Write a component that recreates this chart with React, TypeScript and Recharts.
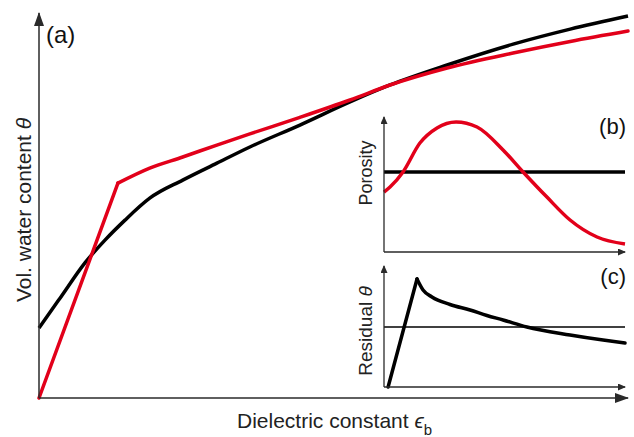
import React from 'react';
import { LineChart, Line, XAxis, YAxis } from 'recharts';

// (a) dielectric constant vs. water content, arbitrary units (0-100)
const mainEps = [0, 3.6, 7.8, 11.2, 14.6, 18.8, 24.4, 30.2, 35.8, 44.3, 52.8, 59.6, 69.3, 80.5, 90.2, 100];
const mainThetaSmooth = [18.2, 26.0, 35.1, 41.0, 46.2, 51.9, 56.6, 61.0, 65.2, 70.9, 76.9, 81.3, 86.5, 91.9, 95.8, 99.2];

const pieceEpsRise = [0, 13.4];
const pieceThetaRise = [0, 55.8];
const pieceEps = [13.4, 18.8, 24.4, 30.2, 35.8, 44.3, 52.8, 59.6, 69.3, 80.5, 90.2, 100];
const pieceTheta = [55.8, 59.7, 62.6, 65.7, 68.6, 72.9, 77.4, 81.3, 85.7, 89.6, 92.6, 95.3];

// (b) porosity along the dielectric axis
const porEps = [0, 2.5, 7.9, 14.9, 22.0, 29.9, 38.6, 49.4, 57.7, 67.6, 77.2, 88.4, 100];
const porVarying = [44.4, 48.1, 59.3, 80.7, 91.9, 96.3, 92.6, 75.6, 59.3, 40.7, 23.7, 11.1, 5.9];
const porConstEps = [0, 100];
const porConst = [59.3, 59.3];

// (c) residual water content
const resEpsRise = [1.7, 13.7];
const resRise = [0, 89.3];
const resEps = [13.7, 16.2, 19.9, 27.4, 35.7, 42.7, 49.4, 59.3, 77.2, 90.9, 100];
const resDecay = [89.3, 80.2, 74.4, 68.2, 63.6, 59.1, 55.4, 49.6, 43.0, 38.8, 36.4];
const resZeroEps = [0, 100];
const resZero = [49.6, 49.6];

const pairs = (xs: number[], ys: number[]) => xs.map((x, i) => ({ x, y: ys[i] }));

const RED = '#e2001a';
const AXIS = '#2a2a2a';
const FONT = '"Liberation Sans", Arial, Helvetica, sans-serif';

const Arrow = ({ id, len, half }: { id: string; len: number; half: number }) => (
  <marker
    id={id}
    viewBox={`0 0 ${len} ${half * 2}`}
    refX={len - 1}
    refY={half}
    markerWidth={len}
    markerHeight={half * 2}
    markerUnits="userSpaceOnUse"
    orient="auto-start-reverse"
  >
    <path d={`M0,0 L${len},${half} L0,${half * 2} z`} fill={AXIS} />
  </marker>
);

// axes get a 1px size so they still draw their line (size 0 skips the axis)
const MainChart = () => (
  <LineChart width={634} height={437} margin={{ top: 13, right: 6, left: 38, bottom: 38 }}>
    <defs>
      <Arrow id="arrowMain" len={14} half={5} />
    </defs>
    <XAxis
      type="number"
      dataKey="x"
      domain={[0, 100]}
      height={1}
      tick={false}
      tickLine={false}
      axisLine={{ stroke: AXIS, strokeWidth: 1.5, markerEnd: 'url(#arrowMain)' }}
    />
    <YAxis
      type="number"
      dataKey="y"
      domain={[0, 100]}
      width={1}
      tick={false}
      tickLine={false}
      axisLine={{ stroke: AXIS, strokeWidth: 1.5, markerStart: 'url(#arrowMain)' }}
    />
    <Line data={pairs(mainEps, mainThetaSmooth)} dataKey="y" type="monotone" stroke="#000" strokeWidth={3.5}
      dot={false} activeDot={false} isAnimationActive={false} />
    <Line data={pairs(pieceEpsRise, pieceThetaRise)} dataKey="y" type="linear" stroke={RED} strokeWidth={3.5}
      strokeLinecap="round" dot={false} activeDot={false} isAnimationActive={false} />
    <Line data={pairs(pieceEps, pieceTheta)} dataKey="y" type="monotone" stroke={RED} strokeWidth={3.5}
      strokeLinecap="round" dot={false} activeDot={false} isAnimationActive={false} />
    <text x={46} y={43} fontSize={24} fill="#111" fontFamily={FONT}>(a)</text>
    <text x={31} y={210} transform="rotate(-90 31 210)" textAnchor="middle" fontSize={21} fill="#222" fontFamily={FONT}>
      Vol. water content <tspan fontStyle="italic">θ</tspan>
    </text>
    <text x={237} y={428} fontSize={21} fill="#222" fontFamily={FONT}>
      Dielectric constant <tspan fontStyle="italic">ϵ</tspan>
      <tspan fontSize={15} dy={7}>b</tspan>
    </text>
  </LineChart>
);

const PorosityInset = () => (
  <LineChart width={284} height={155} margin={{ top: 12, right: 9, left: 33, bottom: 7 }}>
    <defs>
      <Arrow id="arrowPor" len={8} half={3.5} />
    </defs>
    <XAxis type="number" dataKey="x" domain={[0, 100]} height={1} tick={false} tickLine={false}
      axisLine={{ stroke: AXIS, strokeWidth: 1.3, markerEnd: 'url(#arrowPor)' }} />
    <YAxis type="number" dataKey="y" domain={[0, 100]} width={1} tick={false} tickLine={false}
      axisLine={{ stroke: AXIS, strokeWidth: 1.3, markerStart: 'url(#arrowPor)' }} />
    <Line data={pairs(porConstEps, porConst)} dataKey="y" type="linear" stroke="#000" strokeWidth={3.5}
      dot={false} activeDot={false} isAnimationActive={false} />
    <Line data={pairs(porEps, porVarying)} dataKey="y" type="monotone" stroke={RED} strokeWidth={3.5}
      dot={false} activeDot={false} isAnimationActive={false} />
    <text x={276} y={29} textAnchor="end" fontSize={22} fill="#111" fontFamily={FONT}>(b)</text>
    <text x={22} y={68} transform="rotate(-90 22 68)" textAnchor="middle" fontSize={18} fill="#222" fontFamily={FONT}>
      Porosity
    </text>
  </LineChart>
);

const ResidualInset = () => (
  <LineChart width={284} height={145} margin={{ top: 11, right: 9, left: 33, bottom: 12 }}>
    <defs>
      <Arrow id="arrowRes" len={8} half={3.5} />
    </defs>
    <XAxis type="number" dataKey="x" domain={[0, 100]} height={1} tick={false} tickLine={false}
      axisLine={{ stroke: AXIS, strokeWidth: 1.3, markerEnd: 'url(#arrowRes)' }} />
    <YAxis type="number" dataKey="y" domain={[0, 100]} width={1} tick={false} tickLine={false}
      axisLine={{ stroke: AXIS, strokeWidth: 1.3, markerStart: 'url(#arrowRes)' }} />
    <Line data={pairs(resZeroEps, resZero)} dataKey="y" type="linear" stroke="#000" strokeWidth={1.3}
      dot={false} activeDot={false} isAnimationActive={false} />
    <Line data={pairs(resEpsRise, resRise)} dataKey="y" type="linear" stroke="#000" strokeWidth={3.5}
      strokeLinecap="round" dot={false} activeDot={false} isAnimationActive={false} />
    <Line data={pairs(resEps, resDecay)} dataKey="y" type="monotone" stroke="#000" strokeWidth={3.5}
      strokeLinecap="round" dot={false} activeDot={false} isAnimationActive={false} />
    <text x={276} y={29} textAnchor="end" fontSize={22} fill="#111" fontFamily={FONT}>(c)</text>
    <text x={22} y={76} transform="rotate(-90 22 76)" textAnchor="middle" fontSize={19} fill="#222" fontFamily={FONT}>
      Residual <tspan fontStyle="italic">θ</tspan>
    </text>
  </LineChart>
);

export default function App() {
  return (
    <div style={{ position: 'fixed', left: 0, top: 0, width: 634, height: 437, background: '#fff', fontFamily: FONT }}>
      <div style={{ position: 'absolute', left: 0, top: 0 }}>
        <MainChart />
      </div>
      <div style={{ position: 'absolute', left: 350, top: 105 }}>
        <PorosityInset />
      </div>
      <div style={{ position: 'absolute', left: 350, top: 255 }}>
        <ResidualInset />
      </div>
    </div>
  );
}
